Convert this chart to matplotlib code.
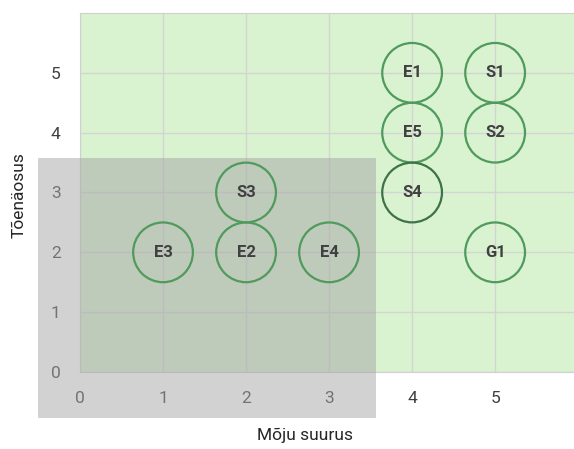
import matplotlib.pyplot as plt
from matplotlib.patches import Rectangle

# risk register: impact (x) vs likelihood (y)
labels = ["E1", "S1", "E5", "S2", "S3", "S4", "E3", "E2", "E4", "G1"]
impact = [4, 5, 4, 5, 2, 4, 1, 2, 3, 5]
likelihood = [5, 5, 4, 4, 3, 3, 2, 2, 2, 2]
edge_colors = ["#4f9a5c"] * 5 + ["#3d7346"] + ["#4f9a5c"] * 4

x_ticks = [0, 1, 2, 3, 4, 5]
y_ticks = [0, 1, 2, 3, 4, 5]

# low-risk zone shaded in grey
low_zone_x = (-0.51, 3.57)
low_zone_y = (-0.77, 3.58)


def plot_matrix():
    fig = plt.figure(figsize=(5.74, 4.49), dpi=100)
    ax = fig.add_axes([80 / 574, 77 / 449, 494 / 574, 359 / 449])
    ax.set_facecolor("#d9f2d0")

    ax.set_xlim(0, 5.95)
    ax.set_ylim(0, 6.0)
    ax.set_xticks(x_ticks)
    ax.set_yticks(y_ticks)
    ax.grid(True, color="#d4d4d4", linewidth=1.0)
    ax.set_axisbelow(True)
    ax.tick_params(length=0, pad=14, labelsize=12.5, labelcolor="#404040")
    for spine in ax.spines.values():
        spine.set_color("#d0d0d0")
        spine.set_linewidth(0.8)
    ax.spines["right"].set_visible(False)

    zone = Rectangle((low_zone_x[0], low_zone_y[0]),
                     low_zone_x[1] - low_zone_x[0],
                     low_zone_y[1] - low_zone_y[0],
                     facecolor="#a6a6a6", alpha=0.5, edgecolor="none",
                     clip_on=False, zorder=3)
    ax.add_patch(zone)

    ax.scatter(impact, likelihood, s=1850, facecolors="none",
               edgecolors=edge_colors, linewidths=1.6, zorder=4, clip_on=False)
    for lab, x, y in zip(labels, impact, likelihood):
        ax.text(x, y, lab, ha="center", va="center", fontsize=12,
                fontweight="bold", color="#404040", zorder=5)

    ax.set_xlabel("Mõju suurus", fontsize=12.5, color="#262626")
    ax.xaxis.set_label_coords(0.455, -0.155)
    ax.set_ylabel("Tõenäosus", fontsize=12.5, color="#262626")
    ax.yaxis.set_label_coords(-0.109, 0.493)

    fig.savefig("out.png", dpi=100)


if __name__ == '__main__':
    plt.rcParams['font.family'] = ['Roboto', 'DejaVu Sans']
    plot_matrix()
